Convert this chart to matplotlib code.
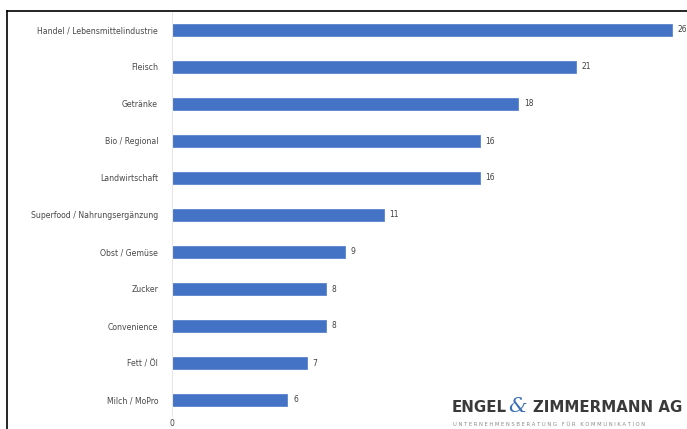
import matplotlib.pyplot as plt
from matplotlib.lines import Line2D

categories = ['Handel / Lebensmittelindustrie', 'Fleisch', 'Getränke', 'Bio / Regional',
              'Landwirtschaft', 'Superfood / Nahrungsergänzung', 'Obst / Gemüse',
              'Zucker', 'Convenience', 'Fett / Öl', 'Milch / MoPro']
values = [26, 21, 18, 16, 16, 11, 9, 8, 8, 7, 6]

W, H = 687, 429
fig = plt.figure(figsize=(W / 100, H / 100), dpi=100)

# plot area in pixels: left 172, top 12, bottom 416
ax = fig.add_axes([172 / W, 1 - 416 / H, (W - 172) / W, (416 - 12) / H])
pos = list(range(len(categories)))
ax.barh(pos, values, height=0.33, color='#4472c4', edgecolor='#5a84cc', linewidth=0.6)
ax.set_ylim((416 - 30) / 37, (12 - 30) / 37)
ax.set_xlim(0, (W - 172) / 19.23)

for p, v in zip(pos, values):
    ax.text(v + 0.3, p, str(v), va='center', ha='left', fontsize=5.5,
            color='#404040', clip_on=False)

ax.set_yticks(pos)
ax.set_yticklabels(categories, fontsize=5.6, color='#484848')
ax.tick_params(axis='y', length=0, pad=10)
ax.set_xticks([0])
ax.set_xticklabels(['0'], fontsize=5.5, color='#404040')
ax.tick_params(axis='x', length=0, pad=2)
for s in ['top', 'right', 'bottom']:
    ax.spines[s].set_visible(False)
ax.spines['left'].set_color('#e6e6e6')
ax.spines['left'].set_linewidth(0.8)

# screenshot frame
fig.add_artist(Line2D([7 / W, 1], [1 - 11 / H, 1 - 11 / H], color='black', lw=1.2))
fig.add_artist(Line2D([7 / W, 7 / W], [0, 1 - 11 / H], color='black', lw=1.2))

# logo
fig.text(452 / W, 1 - 408 / H, 'ENGEL', fontsize=10.8, fontweight='bold',
         color='#3a3a3a', va='center', ha='left')
fig.text(508 / W, 1 - 406 / H, '&', fontsize=15, color='#3b6fb6',
         va='center', ha='left', family='DejaVu Serif', style='italic')
fig.text(533 / W, 1 - 408 / H, 'ZIMMERMANN AG', fontsize=10.8, fontweight='bold',
         color='#3a3a3a', va='center', ha='left')
fig.text(453 / W, 1 - 424 / H, 'U N T E R N E H M E N S B E R A T U N G   F Ü R   K O M M U N I K A T I O N',
         fontsize=3.8, color='#8a8a8a', va='center', ha='left')

fig.savefig('out.png', dpi=100)
